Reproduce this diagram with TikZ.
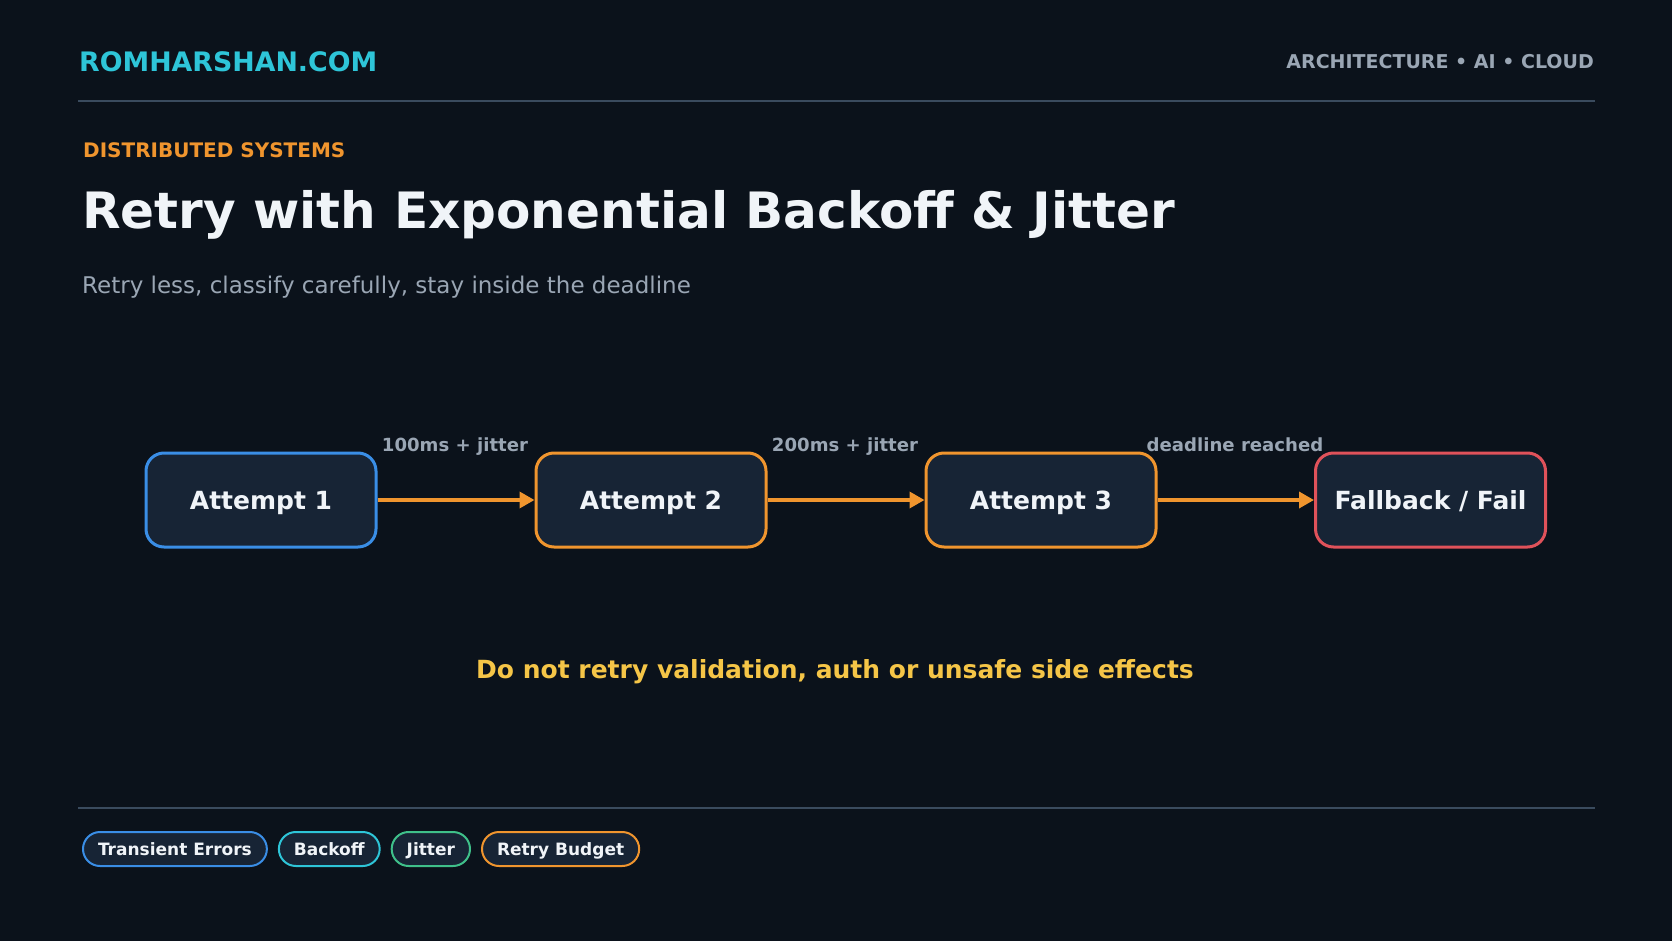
\documentclass[tikz,border=0pt]{standalone}
\usepackage{fontspec}
\setmainfont{DejaVu Sans}
\usetikzlibrary{arrows.meta}
\definecolor{bg}{HTML}{0B121B}
\definecolor{boxfill}{HTML}{172435}
\definecolor{rule}{HTML}{3A4B5E}
\definecolor{brandcyan}{HTML}{2EC5D8}
\definecolor{mutedgray}{HTML}{9AA6B4}
\definecolor{accorange}{HTML}{F0952E}
\definecolor{accblue}{HTML}{3A8EE6}
\definecolor{accred}{HTML}{E0525A}
\definecolor{accyellow}{HTML}{F5C547}
\definecolor{accgreen}{HTML}{3FC08A}
\definecolor{txtwhite}{HTML}{F0F4F8}
\tikzset{
  stagebox/.style={draw, line width=3pt, fill=boxfill, rounded corners=18pt,
    minimum width=230pt, minimum height=94pt, inner sep=0pt,
    text height=18pt, text depth=0pt,
    text=txtwhite, font=\fontsize{25}{30}\selectfont\bfseries},
  flow/.style={draw=accorange, line width=3.5pt,
    -{Triangle[length=15pt,width=16pt]}},
  flowlabel/.style={text=mutedgray, font=\fontsize{18.1}{22}\selectfont\bfseries, inner sep=0pt},
  pill/.style={draw, line width=2pt, fill=boxfill, rounded corners=17pt,
    minimum height=34pt, inner xsep=15pt, inner ysep=0pt, anchor=west,
    text height=12.4pt, text depth=0pt,
    text=txtwhite, font=\fontsize{17}{20}\selectfont\bfseries},
  rulestyle/.style={draw=rule, line width=2pt}
}
\begin{document}
\begin{tikzpicture}[x=1pt,y=-1pt]
\fill[bg] (0,0) rectangle (1672,941);
\useasboundingbox (0,0) rectangle (1672,941);
% header
\node[anchor=base west, inner sep=0pt, text=brandcyan, font=\fontsize{26.8}{32}\selectfont\bfseries] (brand) at (79,72) {ROMHARSHAN.COM};
\node[anchor=base east, inner sep=0pt, text=mutedgray, font=\fontsize{19}{23}\selectfont\bfseries] (tagline) at (1594,69) {ARCHITECTURE • AI • CLOUD};
\coordinate (hl) at (78,101);
\coordinate (hr) at (1595,101);
\draw[rulestyle] (hl) -- (hr);
% titles
\node[anchor=base west, inner sep=0pt, text=accorange, font=\fontsize{20}{24}\selectfont\bfseries] (kicker) at (83,158) {DISTRIBUTED SYSTEMS};
\node[anchor=base west, inner sep=0pt, text=txtwhite, font=\fontsize{50.1}{58}\selectfont\bfseries] (title) at (82,229) {Retry with Exponential Backoff \& Jitter};
\node[anchor=base west, inner sep=0pt, text=mutedgray, font=\fontsize{23}{27}\selectfont] (subtitle) at (82,293) {Retry less, classify carefully, stay inside the deadline};
% flow
\node[stagebox, draw=accblue] (a1) at (261,500) {Attempt 1};
\node[stagebox, draw=accorange] (a2) at (651,500) {Attempt 2};
\node[stagebox, draw=accorange] (a3) at (1041,500) {Attempt 3};
\node[stagebox, draw=accred] (fb) at (1430.5,500) {Fallback / Fail};
\draw[flow] (a1.east) -- (a2.west);
\draw[flow] (a2.east) -- (a3.west);
\draw[flow] (a3.east) -- (fb.west);
\node[flowlabel, anchor=base] (l1) at (455,451) {100ms + jitter};
\node[flowlabel, anchor=base] (l2) at (845,451) {200ms + jitter};
\node[flowlabel, anchor=base] (l3) at (1235,451) {deadline reached};
% warning
\node[anchor=base, inner sep=0pt, text=accyellow, font=\fontsize{25}{30}\selectfont\bfseries] (warn) at (835,678) {Do not retry validation, auth or unsafe side effects};
% footer
\coordinate (fl) at (78,808);
\coordinate (fr) at (1595,808);
\draw[rulestyle] (fl) -- (fr);
\node[pill, draw=accblue] (t1) at (82,849) {Transient Errors};
\node[pill, draw=brandcyan] (t2) at (t1.east) [xshift=10pt] {Backoff};
\node[pill, draw=accgreen] (t3) at (t2.east) [xshift=10pt] {Jitter};
\node[pill, draw=accorange] (t4) at (t3.east) [xshift=10pt] {Retry Budget};
\end{tikzpicture}
\end{document}
